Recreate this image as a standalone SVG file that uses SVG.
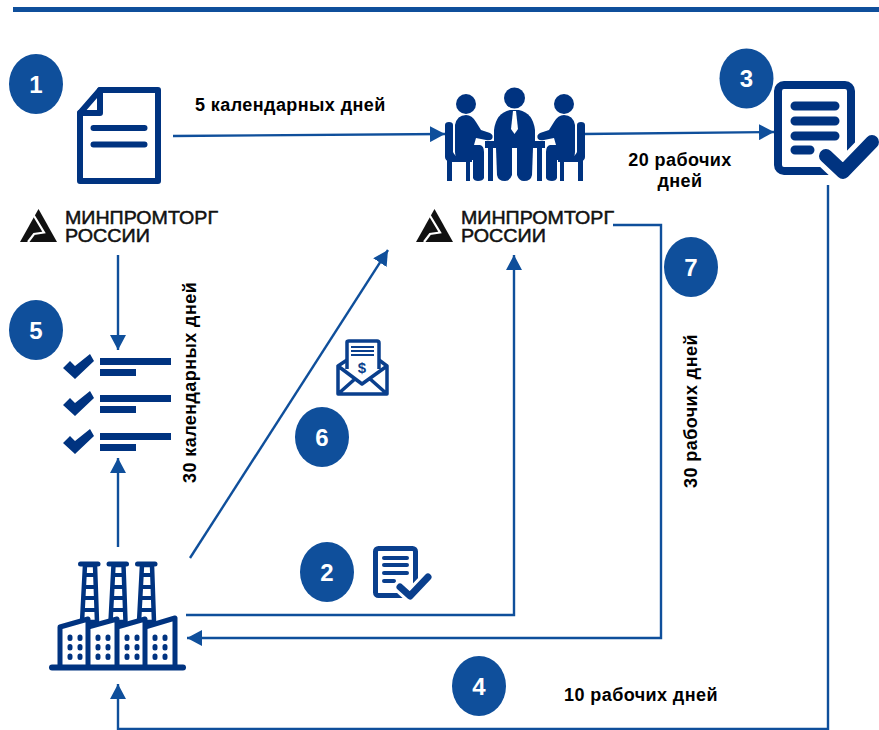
<svg xmlns="http://www.w3.org/2000/svg" width="879" height="730" viewBox="0 0 879 730">
<style>
.t{font-family:"Liberation Sans",Arial,sans-serif;font-weight:700;font-size:18px;letter-spacing:.42px;fill:#000}
.n{font-family:"Liberation Sans",Arial,sans-serif;font-weight:700;font-size:24px;fill:#fff;text-anchor:middle}
.c{fill:#0f4f9b}
.l{fill:none;stroke:#0f4f9b;stroke-width:2.4}
.i{fill:none;stroke:#003380;stroke-width:6;stroke-linejoin:round;stroke-linecap:round}
.f{fill:#003380}
.lg{font-family:"Liberation Sans",Arial,sans-serif;font-size:19px;fill:#111;stroke:#111;stroke-width:.5}
</style>
<defs>
<marker id="a" markerUnits="userSpaceOnUse" markerWidth="16" markerHeight="16" refX="15" refY="8" orient="auto"><path d="M0 0L15 8L0 16Z" fill="#0f4f9b"/></marker>
<g id="logo">
<path d="M18.500 0L37 33H0Z" fill="#111"/>
<path d="M13.500 6L24 23.500L14 25L8 33" fill="none" stroke="#fff" stroke-width="2.200"/>
<text class="lg" x="45" y="15" textLength="153" lengthAdjust="spacingAndGlyphs">МИНПРОМТОРГ</text>
<text class="lg" x="45" y="33" textLength="85" lengthAdjust="spacingAndGlyphs">РОССИИ</text>
</g>
<path id="cl" class="f" d="M63 368L70 361L75 366L90 354L94 361L75 379ZM100 358H171V365H100ZM100 369H136V376H100Z"/>
<g id="chim" fill="none" stroke="#003380">
<path d="M85 565L82 622H97L95 565Z" fill="#fff" stroke-width="4.500" stroke-linejoin="round"/>
<path d="M80.500 564H98" stroke-width="5" stroke-linecap="round"/>
<path d="M84 575H96M84 587H96M83 598H96M83 610H97" stroke-width="4"/>
</g>
</defs>
<rect x="13" y="7" width="866" height="5" fill="#0f4f9b"/>
<g id="connectors">
<path class="l" d="M173 136L445 134" marker-end="url(#a)"/>
<path class="l" d="M583 134L774 132" marker-end="url(#a)"/>
<path class="l" d="M118 255V350" marker-end="url(#a)"/>
<path class="l" d="M118 547V458" marker-end="url(#a)"/>
<path class="l" d="M190 558L388 250" marker-end="url(#a)"/>
<path class="l" d="M186 615H514V255" marker-end="url(#a)"/>
<path class="l" d="M613 225H661V638H187" marker-end="url(#a)"/>
<path class="l" d="M828 185V729H118V684" marker-end="url(#a)"/>
</g>
<g id="node-1">
<ellipse class="c" cx="36" cy="84" rx="27" ry="30"/>
<text class="n" x="36" y="93">1</text>
<path class="i" d="M100 90H158V181H80V113Z"/>
<path class="i" d="M100 90V113H80" stroke-width="5"/>
<path class="i" d="M93.500 128H144.500M93.500 144.500H144.500"/>
</g>
<g id="logo-1"><use href="#logo" x="20" y="209"/></g>
<g id="node-meeting">
<g class="f">
<circle cx="466" cy="104" r="10"/><circle cx="514.500" cy="98" r="10.500"/><circle cx="564" cy="104" r="10"/>
<path d="M455 125Q457 115 466 115Q472 115 476 122L481 130L490 133Q494 135 492 139Q490 141 486 140L476 138L474 145H480Q484 146 484 152V178Q483 181 478 181Q474 181 473 178V160H460Q455 158 455 152Z"/>
<path d="M575 125Q573 115 564 115Q558 115 554 122L549 130L540 133Q536 135 538 139Q540 141 544 140L554 138L556 145H550Q546 146 546 152V178Q547 181 552 181Q556 181 557 178V160H570Q575 158 575 152Z"/>
<path d="M445 125Q445 122 449 122Q453 122 453 125V152Q455 157 460 157H472V162H449Q445 160 445 157Z"/>
<path d="M585 125Q585 122 581 122Q577 122 577 125V152Q575 157 570 157H558V162H581Q585 160 585 157Z"/>
<rect x="447" y="160" width="5" height="21"/><rect x="466" y="160" width="4" height="21"/>
<rect x="560" y="160" width="4" height="21"/><rect x="578" y="160" width="5" height="21"/>
<path d="M494 139V130Q496 113 510 110H519Q533 113 535 130V139L535 141H494Z"/>
<rect x="485" y="141" width="60" height="7"/>
<rect x="488" y="148" width="5" height="33"/><rect x="537" y="148" width="5" height="33"/>
<path d="M496 148H512L512 175Q510 181 505 181Q498 181 497 175Z"/>
<path d="M517 148H533L532 175Q531 181 524 181Q519 181 517 175Z"/>
</g>
<path d="M513 111H516L517 120L518 129L514.500 134L511 129L512 120Z" fill="#fff"/>
</g>
<g id="logo-2"><use href="#logo" x="416" y="209"/></g>
<g id="node-3">
<rect x="778" y="85" width="73" height="86" rx="6" fill="none" stroke="#003380" stroke-width="8"/>
<path d="M795 106H835M795 121H835M795 136H835M795 150H810" fill="none" stroke="#003380" stroke-width="9" stroke-linecap="round"/>
<path d="M826 156L843 172L872 142" fill="none" stroke="#fff" stroke-width="24" stroke-linecap="round" stroke-linejoin="round"/>
<path d="M826 156L843 172L872 142" fill="none" stroke="#003380" stroke-width="14" stroke-linecap="round" stroke-linejoin="round"/>
<ellipse class="c" cx="746.500" cy="78.500" rx="27" ry="30"/>
<text class="n" x="746.500" y="87">3</text>
</g>
<g id="node-5">
<ellipse class="c" cx="36" cy="330" rx="27" ry="30"/>
<text class="n" x="36" y="339">5</text>
<use href="#cl"/><use href="#cl" y="37"/><use href="#cl" y="75"/>
</g>
<g id="node-factory">
<use href="#chim"/><use href="#chim" x="28.500"/><use href="#chim" x="57"/>
<path d="M60 667V627L88 619V667M88 627L117 619V667M117 627L145 619V667M145 627L175 618V667" fill="#fff" stroke="#003380" stroke-width="5" stroke-linejoin="round"/>
<path class="i" d="M52 667.500H183" stroke-width="5"/>
<g stroke="#003380" stroke-width="5" stroke-linecap="round" stroke-dasharray="1.500 8" fill="none">
<path d="M70 637V660M80 637V660M98 637V660M108 637V660M127 637V660M137 637V660M155 637V660M165 637V660"/>
</g>
</g>
<g id="node-6">
<ellipse class="c" cx="322" cy="437" rx="27" ry="30"/>
<text class="n" x="322" y="446">6</text>
<path d="M347 369V342Q347 341 349 341H377Q379 341 379 343V369" fill="#fff" stroke="#0a3f8d" stroke-width="3.500"/>
<path d="M338 366V394H387V366L379 360M347 360L338 366L362 384L387 366M338 394L356 378M387 394L369 378" fill="none" stroke="#0a3f8d" stroke-width="3.500" stroke-linejoin="round"/>
<path d="M351 347H374M351 351H374M351 355H374" stroke="#0a3f8d" stroke-width="2"/>
<text x="362" y="373" font-family="Liberation Sans, sans-serif" font-weight="700" font-size="15" fill="#0a3f8d" text-anchor="middle">$</text>
</g>
<g id="node-2">
<ellipse class="c" cx="327" cy="572" rx="27" ry="30"/>
<text class="n" x="327" y="581">2</text>
<rect x="375.500" y="548.500" width="40" height="47" rx="3" fill="none" stroke="#0a3f8d" stroke-width="5"/>
<path d="M384 558H407M384 565H407M384 573H407M384 581H394" stroke="#0a3f8d" stroke-width="4" stroke-linecap="round"/>
<path d="M400 587L410 596L428 577" fill="none" stroke="#fff" stroke-width="13" stroke-linecap="round"/>
<path d="M400 587L410 596L428 577" fill="none" stroke="#0a3f8d" stroke-width="7" stroke-linecap="round" stroke-linejoin="round"/>
</g>
<g id="node-7"><ellipse class="c" cx="691" cy="267" rx="27" ry="30"/><text class="n" x="691" y="276">7</text></g>
<g id="node-4"><ellipse class="c" cx="479" cy="686" rx="27" ry="30"/><text class="n" x="479" y="695">4</text></g>
<g id="labels">
<text class="t" x="195" y="111">5 календарных дней</text>
<text class="t" x="680" y="166" text-anchor="middle">20 рабочих</text>
<text class="t" x="680" y="187" text-anchor="middle">дней</text>
<text class="t" x="564" y="701">10 рабочих дней</text>
<text class="t" transform="translate(196 483) rotate(-90)">30 календарных дней</text>
<text class="t" transform="translate(697 488) rotate(-90)">30 рабочих дней</text>
</g>
</svg>
